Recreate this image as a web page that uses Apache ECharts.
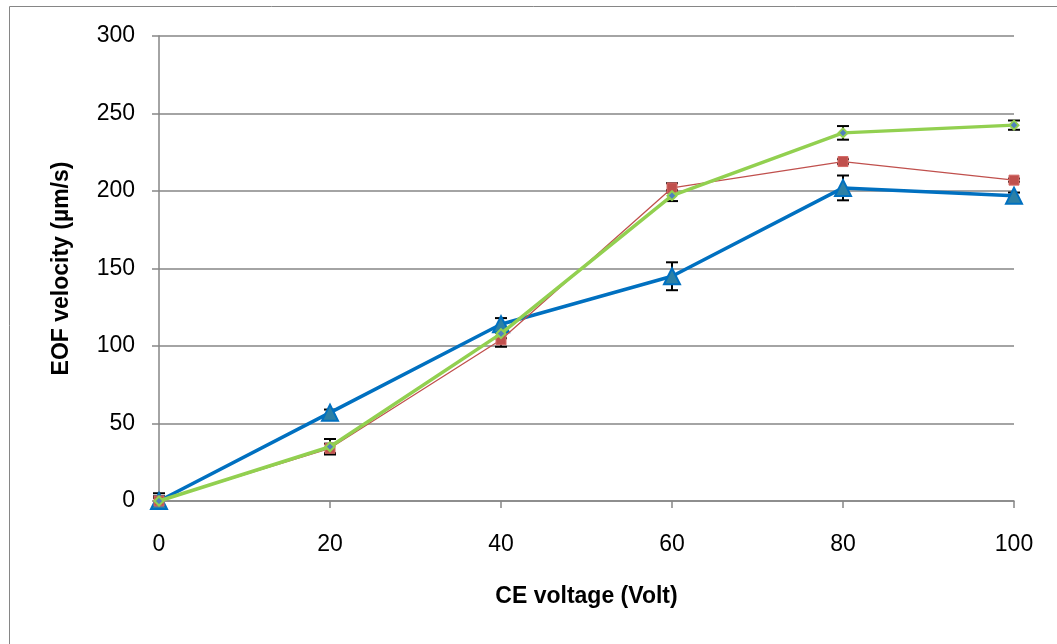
<!DOCTYPE html>
<html>
<head>
<meta charset="utf-8">
<script src="https://cdn.jsdelivr.net/npm/echarts@6/dist/echarts.min.js"></script>
<style>
html,body{margin:0;padding:0;background:#fff;}
#chart{width:1057px;height:644px;}
</style>
</head>
<body>
<div id="chart"></div>
<script>
var voltages = [0, 20, 40, 60, 80, 100];
var blueValues = [0, 57, 114, 145, 202, 197];
var blueErrors = [5, 2, 4, 9, 8, 2];
var redValues = [0, 34, 104, 202, 219, 207];
var redErrors = [3, 3, 4.5, 3, 1.5, 1];
var greenValues = [0, 35, 108, 197, 237.5, 242.5];
var greenErrors = [2, 5, 3, 3.5, 4.4, 3];
var xTicks = [0, 20, 40, 60, 80, 100];
var yTicks = [0, 50, 100, 150, 200, 250, 300];

var FONT = 'Liberation Sans';
var GRAY = '#868686';

function pairs(vals) {
  return voltages.map(function (v, i) { return [v, vals[i]]; });
}
function errData(vals, errs) {
  return voltages.map(function (v, i) { return [v, vals[i] - errs[i], vals[i] + errs[i]]; });
}
function errRender(params, api) {
  var x = api.value(0);
  var lo = api.coord([x, api.value(1)]);
  var hi = api.coord([x, api.value(2)]);
  var w = 6;
  var style = { stroke: '#000', lineWidth: 2 };
  return {
    type: 'group',
    children: [
      { type: 'line', shape: { x1: lo[0], y1: lo[1], x2: hi[0], y2: hi[1] }, style: style },
      { type: 'line', shape: { x1: lo[0] - w, y1: lo[1], x2: lo[0] + w, y2: lo[1] }, style: style },
      { type: 'line', shape: { x1: hi[0] - w, y1: hi[1], x2: hi[0] + w, y2: hi[1] }, style: style }
    ]
  };
}
function errSeries(vals, errs, z) {
  return {
    type: 'custom',
    renderItem: errRender,
    data: errData(vals, errs),
    encode: { x: 0, y: [1, 2] },
    z: z,
    silent: true,
    clip: false
  };
}

var chart = echarts.init(document.getElementById('chart'), null, { renderer: 'canvas' });
chart.setOption({
  animation: false,
  backgroundColor: '#fff',
  graphic: [{
    type: 'rect',
    shape: { x: 9.5, y: 6.5, width: 1100, height: 700 },
    style: { fill: 'none', stroke: GRAY, lineWidth: 1 },
    silent: true,
    z: 0
  }],
  grid: { left: 159, right: 43, top: 36, bottom: 143, containLabel: false },
  xAxis: {
    type: 'value',
    min: xTicks[0],
    max: xTicks[xTicks.length - 1],
    interval: xTicks[1] - xTicks[0],
    name: 'CE voltage (Volt)',
    nameLocation: 'middle',
    nameGap: 84,
    nameTextStyle: { fontFamily: FONT, fontSize: 23, fontWeight: 'bold', color: '#000' },
    axisLine: { show: true, onZero: false, lineStyle: { color: GRAY, width: 1.5 } },
    axisTick: { show: true, inside: false, length: 7, lineStyle: { color: GRAY, width: 1.5 } },
    axisLabel: { margin: 32, fontFamily: FONT, fontSize: 23, color: '#000' },
    splitLine: { show: false }
  },
  yAxis: {
    type: 'value',
    min: yTicks[0],
    max: yTicks[yTicks.length - 1],
    interval: yTicks[1] - yTicks[0],
    name: 'EOF velocity (µm/s)',
    nameLocation: 'middle',
    nameRotate: 90,
    nameGap: 86,
    nameTextStyle: { fontFamily: FONT, fontSize: 23, fontWeight: 'bold', color: '#000' },
    axisLine: { show: true, lineStyle: { color: GRAY, width: 1.5 } },
    axisTick: { show: true, inside: false, length: 7, lineStyle: { color: GRAY, width: 1.5 } },
    axisLabel: { margin: 24, fontFamily: FONT, fontSize: 23, color: '#000' },
    splitLine: { show: true, lineStyle: { color: GRAY, width: 1.5 } }
  },
  series: [
    errSeries(blueValues, blueErrors, 3),
    errSeries(redValues, redErrors, 3),
    errSeries(greenValues, greenErrors, 3),
    {
      name: 'blue',
      type: 'line',
      data: pairs(blueValues),
      z: 4,
      lineStyle: { color: '#0070C0', width: 3.5 },
      symbol: 'triangle',
      symbolSize: 16,
      itemStyle: { color: '#2C80A6', borderColor: '#0070C0', borderWidth: 2 }
    },
    {
      name: 'red',
      type: 'line',
      data: pairs(redValues),
      z: 5,
      lineStyle: { color: '#C0504D', width: 1.3 },
      symbol: 'rect',
      symbolSize: 10,
      itemStyle: { color: '#C0504D', borderColor: '#D46A67', borderWidth: 1 }
    },
    {
      name: 'green',
      type: 'line',
      data: pairs(greenValues),
      z: 6,
      lineStyle: { color: '#92D050', width: 3.5 },
      symbol: 'diamond',
      symbolSize: 9,
      itemStyle: { color: '#4F81BD', borderColor: '#92D050', borderWidth: 2 }
    }
  ]
});
</script>
</body>
</html>
